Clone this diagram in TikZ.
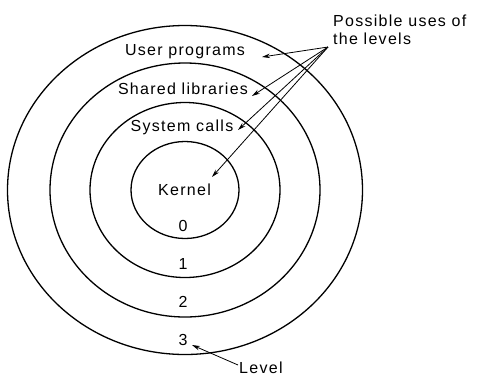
\documentclass[tikz,border=0pt]{standalone}
\usepackage{fontspec}
\setmainfont[LetterSpace=8]{Liberation Sans}
\usetikzlibrary{arrows.meta}
\begin{document}
\begin{tikzpicture}[x=1pt,y=-1pt,
  ring/.style={draw=black,line width=1.3pt},
  lbl/.style={font=\fontsize{16}{18}\selectfont,inner sep=0pt,anchor=base},
  pointer/.style={draw=black,line width=0.8pt,-{Stealth[length=8pt,width=4.5pt]}}]
\useasboundingbox (0,0) rectangle (477,376);
\draw[ring] (185,190) ellipse [x radius=177.5, y radius=164.5];
\draw[ring] (185,190) ellipse [x radius=135, y radius=127];
\draw[ring] (185,190) ellipse [x radius=95, y radius=87.5];
\draw[ring] (185,190) ellipse [x radius=54, y radius=48.5];
\node[lbl] (user) at (185,55) {User programs};
\node[lbl] (shared) at (183,94) {Shared libraries};
\node[lbl] (sys) at (182,131) {System calls};
\node[lbl] (kernel) at (184.5,195) {Kernel};
\node[lbl] (l0) at (183,231) {0};
\node[lbl] (l1) at (183,269) {1};
\node[lbl] (l2) at (183,307) {2};
\node[lbl] (l3) at (183,345) {3};
\node[lbl,anchor=base west] (poss) at (333,26) {Possible uses of};
\node[lbl,anchor=base west] (thelev) at (333,44) {the levels};
\node[lbl,anchor=base west] (level) at (239,373) {Level};
\coordinate (fan) at (328,47);
\coordinate (tuser) at (262,57);
\coordinate (tshared) at (252,96);
\coordinate (tsys) at (238,130);
\coordinate (tkern) at (212,177);
\coordinate (lvstart) at (238,365);
\coordinate (tlv) at (192,345);
\draw[pointer] (fan) -- (tuser);
\draw[pointer] (fan) -- (tshared);
\draw[pointer] (fan) -- (tsys);
\draw[pointer] (fan) -- (tkern);
\draw[pointer] (lvstart) -- (tlv);
\end{tikzpicture}
\end{document}
